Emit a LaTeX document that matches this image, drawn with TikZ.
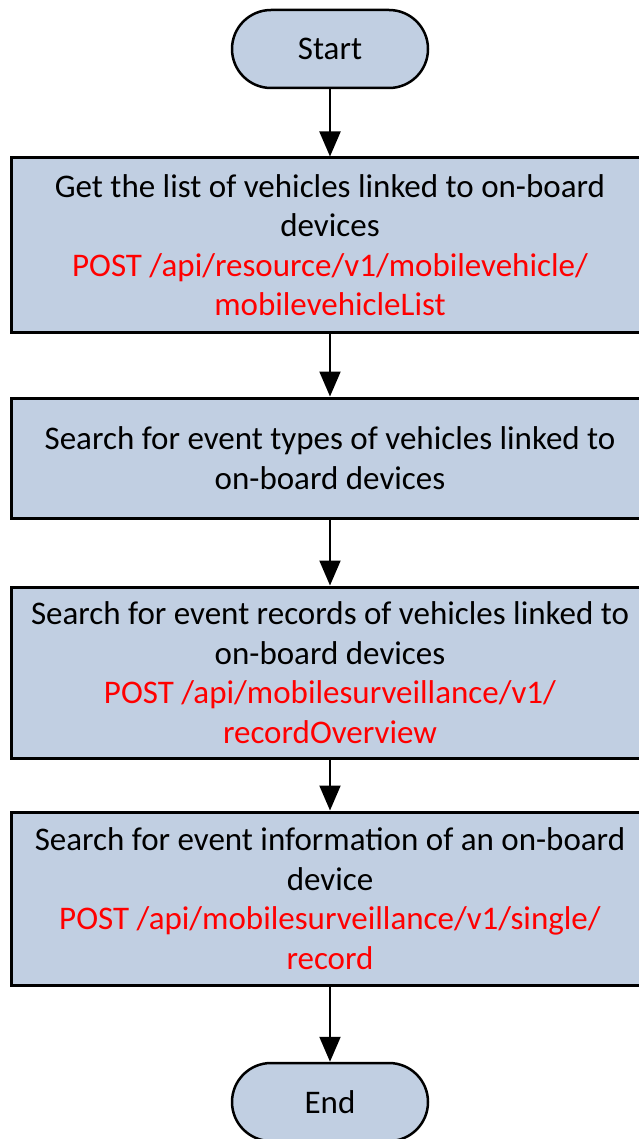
\documentclass[tikz,border=0pt]{standalone}
\usepackage{fontspec}
\setmainfont{Carlito}
\usetikzlibrary{arrows.meta}
\definecolor{boxfill}{RGB}{193,207,226}
\definecolor{apired}{RGB}{255,0,0}
\begin{document}
\begin{tikzpicture}[x=1pt,y=1pt,
  txt/.style={font=\fontsize{33}{39.5}\selectfont, align=center},
  term/.style={txt, draw=black, line width=2.5pt, fill=boxfill, rounded corners=39pt,
    minimum width=196pt, minimum height=78pt, inner sep=0pt},
  proc/.style={txt, draw=black, line width=3pt, fill=boxfill,
    minimum width=638pt, inner sep=0pt},
  flow/.style={line width=2pt, -{Triangle[length=25pt,width=21pt]}}]
\useasboundingbox (0,0) rectangle (638,-1139);
\node[term] (start) at (330,-49) {Start};
\node[proc, minimum height=174pt] (b1) at (330,-245) {Get the list of vehicles linked to on-board\\devices\\\textcolor{apired}{POST /api/resource/v1/mobilevehicle/}\\\textcolor{apired}{mobilevehicleList}};
\node[proc, minimum height=120pt] (b2) at (330,-458) {Search for event types of vehicles linked to\\on-board devices};
\node[proc, minimum height=171pt] (b3) at (330,-672.5) {Search for event records of vehicles linked to\\on-board devices\\\textcolor{apired}{POST /api/mobilesurveillance/v1/}\\\textcolor{apired}{recordOverview}};
\node[proc, minimum height=173pt] (b4) at (330,-898.5) {Search for event information of an on-board\\device\\\textcolor{apired}{POST /api/mobilesurveillance/v1/single/}\\\textcolor{apired}{record}};
\node[term] (end) at (330,-1102) {End};
\draw[flow] (start) -- (b1);
\draw[flow] (b1) -- (b2);
\draw[flow] (b2) -- (b3);
\draw[flow] (b3) -- (b4);
\draw[flow] (b4) -- (end);
\end{tikzpicture}
\end{document}
